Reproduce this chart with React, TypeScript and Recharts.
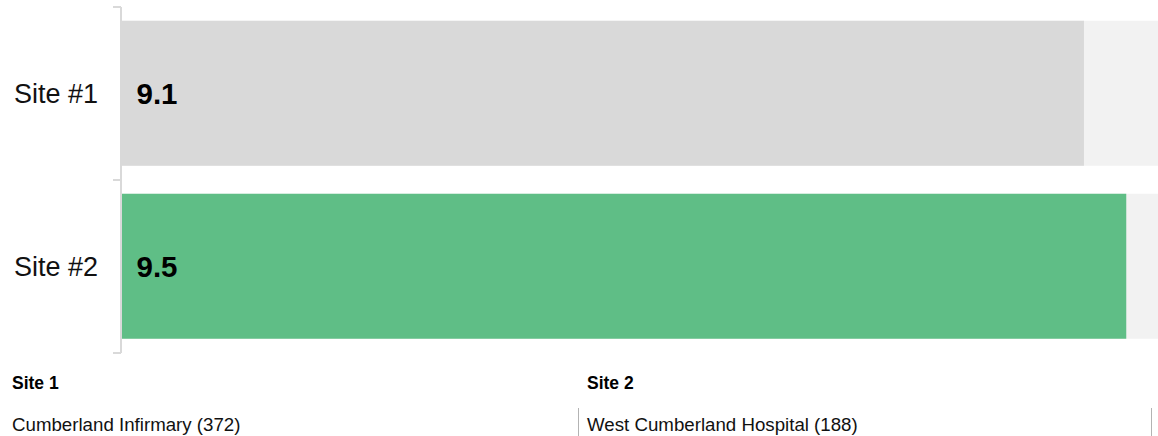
import React from 'react';
import { BarChart, Bar, XAxis, YAxis, Cell, LabelList } from 'recharts';

const sites = ['Site #1', 'Site #2'];
const scores = [9.1, 9.5];
const scoreLabels = ['9.1', '9.5'];
const barColors = ['#d9d9d9', '#5fbe86'];
const scoreMax = 9.8;

const footerTitles = ['Site 1', 'Site 2'];
const footerNames = ['Cumberland Infirmary (372)', 'West Cumberland Hospital (188)'];

const FONT = '"Liberation Sans", Arial, sans-serif';
const W = 1158;
const H = 360;
const TOP = 7;
const BOTTOM = 7;
const AXIS_W = 121;
const BAND = (H - TOP - BOTTOM) / sites.length;

const data = sites.map((s, i) => ({ site: s, score: scores[i], label: scoreLabels[i] }));

// label on the left plus small ticks at the band edges
const SiteTick = (props: any) => {
  const { x, y, payload } = props;
  const half = BAND / 2;
  return (
    <g>
      <line x1={x} x2={x + 8} y1={y - half} y2={y - half} stroke="#d9d9d9" strokeWidth={2} />
      <line x1={x} x2={x + 8} y1={y + half} y2={y + half} stroke="#d9d9d9" strokeWidth={2} />
      <text x={x - 15} y={y} textAnchor="end" dominantBaseline="central"
        fontFamily={FONT} fontSize={27} fill="#111">
        {payload.value}
      </text>
    </g>
  );
};

const ScoreLabel = (props: any) => {
  const { x, y, height, index } = props;
  return (
    <text x={x + 15.5} y={y + height / 2} dominantBaseline="central"
      fontFamily={FONT} fontSize={29.5} fontWeight="bold" fill="#000">
      {scoreLabels[index]}
    </text>
  );
};

export default function App() {
  return (
    <div style={{ position: 'absolute', left: 0, top: 0, width: W, height: 436, background: '#fff', fontFamily: FONT }}>
      <BarChart width={W} height={H} data={data} layout="vertical"
        margin={{ top: TOP, right: 0, bottom: BOTTOM, left: 0 }} barCategoryGap="8%">
        <XAxis type="number" domain={[0, scoreMax]} hide />
        <YAxis type="category" dataKey="site" width={AXIS_W} tickLine={false}
          axisLine={{ stroke: '#d9d9d9', strokeWidth: 2 }} tick={<SiteTick />} interval={0} />
        <Bar dataKey="score" background={{ fill: '#f2f2f2' }} isAnimationActive={false}>
          {data.map((d, i) => (
            <Cell key={d.site} fill={barColors[i]} />
          ))}
          <LabelList dataKey="label" content={<ScoreLabel />} />
        </Bar>
      </BarChart>
      {footerTitles.map((t, i) => (
        <React.Fragment key={t}>
          <div style={{ position: 'absolute', left: 12 + i * 575, top: 375, fontSize: 17.5, lineHeight: '17px', fontWeight: 'bold', color: '#000' }}>
            {t}
          </div>
          <div style={{ position: 'absolute', left: 12 + i * 575, top: 416, fontSize: 18.7, lineHeight: '18px', color: '#111', whiteSpace: 'nowrap' }}>
            {footerNames[i]}
          </div>
          <div style={{ position: 'absolute', left: 578 + i * 573, top: 408, width: 1, height: 28, background: '#b3b3b3' }} />
        </React.Fragment>
      ))}
    </div>
  );
}
